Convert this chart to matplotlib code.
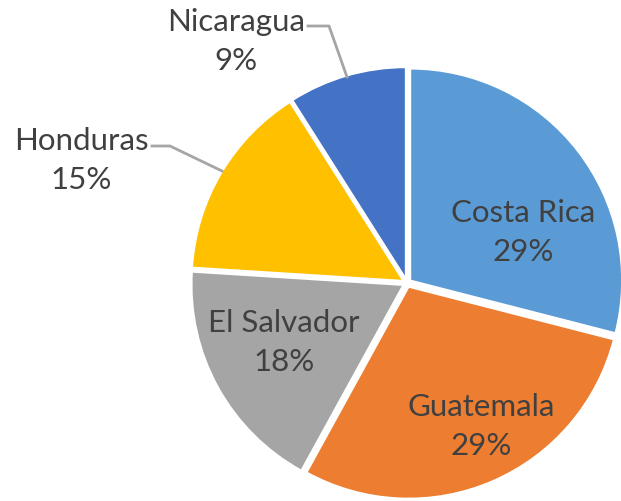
import matplotlib
matplotlib.use("Agg")
import matplotlib.pyplot as plt

# Data
countries = ["Costa Rica", "Guatemala", "El Salvador", "Honduras", "Nicaragua"]
shares = [29, 29, 18, 15, 9]
colors = ["#5B9BD5", "#ED7D31", "#A5A5A5", "#FFC000", "#4472C4"]

W, H = 621, 502
plt.rcParams["font.family"] = ["Lato", "DejaVu Sans"]
text_color = "#404040"

fig = plt.figure(figsize=(W / 100, H / 100), dpi=100)
ax = fig.add_axes([0, 0, 1, 1])

def Y(y):
    # pixel row (from top) to axes y
    return H - y

# explode is in data units here (axes are in pixels)
ax.pie(shares, colors=colors, startangle=90, counterclock=False,
       center=(407, Y(284)), radius=212, explode=[4] * len(shares),
       wedgeprops=dict(edgecolor="white", linewidth=1.5))

ax.set_xlim(0, W)
ax.set_ylim(0, H)
ax.set_aspect("equal")
ax.axis("off")

# label placement (pixel coords of the name line centre)
label_pos = {
    "Costa Rica": (523, 213),
    "Guatemala": (481, 407),
    "El Salvador": (284, 323),
    "Honduras": (81, 141),
    "Nicaragua": (236, 22),
}
for name, pct in zip(countries, shares):
    x, y = label_pos[name]
    ax.text(x, Y(y), name, ha="center", va="center", fontsize=22.5, color=text_color)
    ax.text(x, Y(y + 39), f"{pct}%", ha="center", va="center", fontsize=22.5, color=text_color)

# leader lines
leader = dict(color="#A5A5A5", linewidth=2)
ax.plot([152, 170, 222], [Y(147), Y(147), Y(172)], **leader)
ax.plot([308, 329, 347], [Y(27), Y(27), Y(78)], **leader)

fig.savefig("out.png", dpi=100)
